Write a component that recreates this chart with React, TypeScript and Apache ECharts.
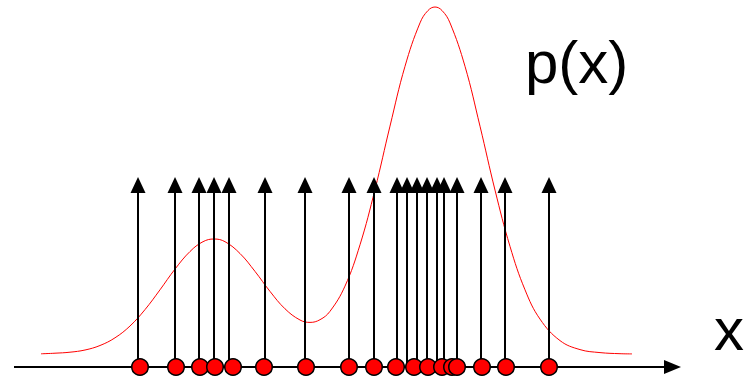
import React, { useEffect, useRef } from "react";
import * as echarts from "echarts";

// Sample positions (x) drawn as vertical arrows (delta functions)
const arrowSamples = [138, 175, 199, 214, 229, 265, 305, 349, 374, 397, 407, 417, 427, 437, 444, 457, 481, 505, 549];
// Sample positions drawn as red dots on the axis
const dotSamples = [140, 176, 200, 215, 233, 264, 306, 349, 374, 396, 414, 428, 442, 452, 457, 482, 506, 549];
// Height of each arrow (tip) in axis units
const arrowHeight = 190;

// Density curve p(x)
const curveX = [41, 55, 70, 85, 100, 115, 130, 145, 160, 175, 190, 203, 214, 225, 240, 255, 270, 285, 300, 310, 320, 330, 345, 360, 375, 390, 405, 420, 428, 435, 442, 450, 465, 480, 495, 510, 525, 540, 560, 580, 600, 620, 632];
const curveY = [13.2, 13.8, 14.8, 17, 21.5, 29.2, 41, 57.4, 77.2, 97.9, 115.5, 125.3, 128, 125.3, 113.5, 95.6, 75.6, 58.2, 47, 44.6, 47.3, 55.7, 80.9, 122.2, 177.5, 240.9, 300.7, 344.1, 356.5, 360, 356.5, 344.1, 300.7, 240.8, 176.9, 120.6, 77.2, 47.9, 26.4, 17.4, 14.4, 13.3, 13.1];

// Horizontal axis extent
const axisStart = 14;
const axisEnd = 681;

const curveLabel = "p(x)";
const axisLabel = "x";

export default function App() {
  const ref = useRef<HTMLDivElement>(null);
  useEffect(() => {
    if (!ref.current) return;
    const chart = echarts.init(ref.current, undefined, { renderer: "svg" });
    const curveData = curveX.map((x, i) => [x, curveY[i]]);
    const arrowData = arrowSamples.map((x) => [x, arrowHeight]);
    const dotData = dotSamples.map((x) => [x, 0]);

    chart.setOption({
      animation: false,
      grid: { left: 0, right: 0, top: 0, bottom: 12 },
      xAxis: { type: "value", min: 0, max: 746, show: false },
      yAxis: { type: "value", min: 0, max: 367, show: false },
      series: [
        {
          type: "line",
          data: curveData,
          smooth: 0.4,
          showSymbol: false,
          lineStyle: { color: "#ff0000", width: 1 },
          z: 1,
        },
        {
          type: "custom",
          z: 2,
          data: [[axisStart, 0, axisEnd]],
          renderItem: (params: any, api: any) => {
            const p0 = api.coord([api.value(0), api.value(1)]);
            const p1 = api.coord([api.value(2), api.value(1)]);
            const headLen = 17;
            const headHalf = 7;
            return {
              type: "group",
              children: [
                {
                  type: "line",
                  shape: { x1: p0[0], y1: p0[1], x2: p1[0] - headLen + 1, y2: p1[1] },
                  style: { stroke: "#000", lineWidth: 2 },
                },
                {
                  type: "polygon",
                  shape: {
                    points: [
                      [p1[0], p1[1]],
                      [p1[0] - headLen, p1[1] - headHalf],
                      [p1[0] - headLen, p1[1] + headHalf],
                    ],
                  },
                  style: { fill: "#000" },
                },
              ],
            };
          },
        },
        {
          type: "custom",
          z: 3,
          data: arrowData,
          renderItem: (params: any, api: any) => {
            const base = api.coord([api.value(0), 0]);
            const tip = api.coord([api.value(0), api.value(1)]);
            const headLen = 16;
            const headHalf = 7.5;
            return {
              type: "group",
              children: [
                {
                  type: "line",
                  shape: { x1: base[0], y1: base[1], x2: tip[0], y2: tip[1] + headLen - 1 },
                  style: { stroke: "#000", lineWidth: 2 },
                },
                {
                  type: "polygon",
                  shape: {
                    points: [
                      [tip[0], tip[1]],
                      [tip[0] - headHalf, tip[1] + headLen],
                      [tip[0] + headHalf, tip[1] + headLen],
                    ],
                  },
                  style: { fill: "#000" },
                },
              ],
            };
          },
        },
        {
          type: "scatter",
          z: 4,
          data: dotData,
          symbol: "circle",
          symbolSize: 16.5,
          itemStyle: { color: "#ff0000", borderColor: "#000", borderWidth: 1.5, opacity: 1 },
        },
      ],
      graphic: [
        {
          type: "text",
          left: 525,
          top: 32,
          style: {
            text: curveLabel,
            font: '60px "Liberation Sans", Arial, sans-serif',
            fill: "#000",
          },
        },
        {
          type: "text",
          left: 714,
          top: 299,
          style: {
            text: axisLabel,
            font: '60px "Liberation Sans", Arial, sans-serif',
            fill: "#000",
          },
        },
      ],
    });
    return () => chart.dispose();
  }, []);
  return (
    <div
      ref={ref}
      style={{ position: "fixed", left: 0, top: 0, width: 746, height: 379, background: "#fff" }}
    />
  );
}
